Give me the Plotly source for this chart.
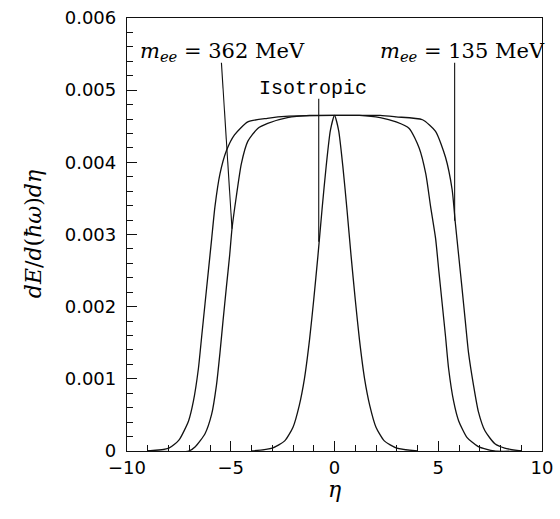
import plotly.graph_objects as go

# ---- data ----
iso_eta = [-4.0, -3.0, -2.4, -2.0, -1.7, -1.45, -1.2, -1.0, -0.8, -0.6, -0.4, -0.2, 0.0,
           0.2, 0.4, 0.6, 0.8, 1.0, 1.2, 1.45, 1.7, 2.0, 2.4, 3.0, 4.0]
iso_val = [0.0, 0.00004, 0.00014, 0.00033, 0.00063, 0.0010, 0.00155, 0.0021, 0.0027, 0.00335, 0.00395, 0.00444, 0.00465,
           0.00444, 0.00395, 0.00335, 0.0027, 0.0021, 0.00155, 0.0010, 0.00063, 0.00033, 0.00014, 0.00004, 0.0]

m135_eta = [-9.0, -7.98, -7.5, -7.03, -6.8, -6.56, -6.4, -6.24, -6.08, -5.92, -5.76, -5.52, -5.21, -4.82, -4.18,
            -3.24, -2.2, 0.0, 2.2, 2.97, 4.24, 4.87, 5.35, 5.67, 5.82, 5.98, 6.14, 6.3, 6.46, 6.7, 6.93, 7.25,
            7.73, 8.2, 9.0]
m135_val = [0.0, 0.00004, 0.00015, 0.00042, 0.00069, 0.00114, 0.00159, 0.00204, 0.00249, 0.00294, 0.00339, 0.00384,
            0.00416, 0.00438, 0.00456, 0.00461, 0.00464, 0.00465, 0.00465, 0.00463, 0.00459, 0.00443, 0.00407,
            0.00362, 0.00317, 0.00272, 0.00227, 0.00181, 0.00136, 0.00091, 0.00055, 0.00028, 0.0001, 0.00004, 0.0]

m362_eta = [-9.0, -7.03, -6.71, -6.24, -5.92, -5.69, -5.52, -5.37, -5.21, -5.05, -4.94, -4.73, -4.49, -4.18, -3.7,
            -3.22, -2.27, -1.2, 0.0, 1.2, 2.2, 2.97, 3.6, 4.08, 4.4, 4.63, 4.87, 5.03, 5.19, 5.35, 5.5, 5.74, 5.98,
            6.38, 6.93, 7.7, 9.0]
m362_val = [0.0, 0.0, 0.00006, 0.00024, 0.00051, 0.00091, 0.00136, 0.00181, 0.00227, 0.00272, 0.00308, 0.00353,
            0.00398, 0.00429, 0.00447, 0.00454, 0.00462, 0.00465, 0.00465, 0.00465, 0.00462, 0.00456, 0.00447,
            0.0042, 0.00384, 0.00339, 0.00295, 0.00249, 0.00204, 0.00159, 0.00114, 0.00069, 0.00042, 0.00019,
            0.00006, 0.0, 0.0]

x_tickvals = [-10, -5, 0, 5, 10]
x_ticktext = ["\u221210", "\u22125", "0", "5", "10"]
y_tickvals = [0, 0.001, 0.002, 0.003, 0.004, 0.005, 0.006]
y_ticktext = ["0", "0.001", "0.002", "0.003", "0.004", "0.005", "0.006"]

# label texts and their pointer lines (x0, y0, x1, y1)
label_362 = "<i>m</i><sub><i>ee</i></sub> = 362 MeV"
label_135 = "<i>m</i><sub><i>ee</i></sub> = 135 MeV"
label_iso = "Isotropic"
pointer_362 = (-5.45, 0.00538, -4.94, 0.00308)
pointer_iso = (-0.76, 0.00488, -0.76, 0.0029)
pointer_135 = (5.79, 0.00538, 5.79, 0.00319)

LINE = "#111111"
fig = go.Figure()
for xs, ys in [(m135_eta, m135_val), (m362_eta, m362_val), (iso_eta, iso_val)]:
    fig.add_trace(go.Scatter(x=xs, y=ys, mode="lines",
                             line=dict(color=LINE, width=1.3, shape="spline", smoothing=0.6),
                             showlegend=False, hoverinfo="skip"))

for p in (pointer_362, pointer_iso, pointer_135):
    fig.add_shape(type="line", xref="x", yref="y", x0=p[0], y0=p[1], x1=p[2], y1=p[3],
                  line=dict(color=LINE, width=1.1))

serif = "DejaVu Serif"
fig.add_annotation(x=-5.4, y=0.00553, xref="x", yref="y", text=label_362, showarrow=False,
                   font=dict(family=serif, size=21, color="black"))
fig.add_annotation(x=6.15, y=0.00553, xref="x", yref="y", text=label_135, showarrow=False,
                   font=dict(family=serif, size=21, color="black"))
fig.add_annotation(x=-1.03, y=0.00503, xref="x", yref="y", text=label_iso, showarrow=False,
                   font=dict(family="Liberation Mono", size=20, color="black"))

# axis titles
fig.add_annotation(x=-0.225, y=0.5, xref="paper", yref="paper", xanchor="center", textangle=-90,
                   showarrow=False,
                   text="<i>dE</i>/<i>d</i>(<i>\u0127\u03c9</i>)<i>d\u03b7</i>",
                   font=dict(family=serif, size=22, color="black"))
fig.add_annotation(x=0.5, y=-0.09, xref="paper", yref="paper", yanchor="middle", showarrow=False,
                   text="<i>\u03b7</i>", font=dict(family=serif, size=22, color="black"))

tickfont = dict(family="DejaVu Sans", size=18, color="black")
fig.update_xaxes(range=[-10, 10], tickvals=x_tickvals, ticktext=x_ticktext, ticks="inside", ticklen=10,
                 tickwidth=1.1, tickcolor=LINE, showgrid=False, zeroline=False, showline=True,
                 linecolor=LINE, linewidth=1.3, mirror=True, tickfont=tickfont, ticklabeloverflow="allow",
                 minor=dict(dtick=1, tick0=0, ticks="inside", ticklen=6, tickwidth=1.1, tickcolor=LINE))
fig.update_yaxes(range=[0, 0.006], tickvals=y_tickvals, ticktext=y_ticktext, ticks="inside", ticklen=10,
                 tickwidth=1.1, tickcolor=LINE, showgrid=False, zeroline=False, showline=True,
                 linecolor=LINE, linewidth=1.3, mirror=True, tickfont=tickfont, ticklabelstandoff=6,
                 ticklabeloverflow="allow",
                 minor=dict(dtick=0.0002, tick0=0, ticks="inside", ticklen=6, tickwidth=1.1, tickcolor=LINE))

fig.update_layout(width=560, height=519, margin=dict(l=127, r=11, t=7, b=68),
                  paper_bgcolor="white", plot_bgcolor="white")
fig.write_html("out.html")
